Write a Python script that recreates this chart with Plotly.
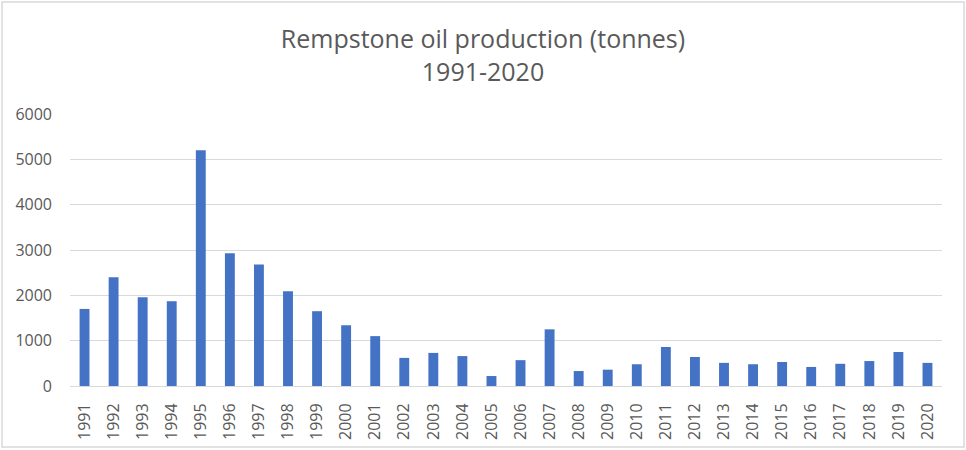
import plotly.graph_objects as go

years = [str(y) for y in range(1991, 2021)]
production = [1700, 2400, 1960, 1870, 5200, 2930, 2680, 2090, 1650, 1340,
              1100, 620, 730, 660, 220, 570, 1250, 330, 360, 480,
              860, 640, 510, 480, 530, 420, 490, 550, 750, 510]
y_ticks = [0, 1000, 2000, 3000, 4000, 5000, 6000]

W, H = 966, 450
L, R, T, B = 70, 24, 114, 64
pw, ph = W - L - R, H - T - B

fig = go.Figure(go.Bar(x=years, y=production, marker_color="#4472C4",
                       marker_line_width=0))

fig.update_layout(
    width=W, height=H,
    margin=dict(l=L, r=R, t=T, b=B, pad=0, autoexpand=False),
    paper_bgcolor="white", plot_bgcolor="white",
    font=dict(family="Open Sans", color="#595959"),
    bargap=0.66,
    showlegend=False,
    title=dict(text="Rempstone oil production (tonnes)<br>1991-2020",
               x=0.5, xanchor="center", y=1 - 48 / H, yanchor="top",
               font=dict(size=25, color="#595959", family="Open Sans")),
    shapes=[dict(type="rect", xref="paper", yref="paper",
                 x0=(2 - L) / pw, x1=(964 - L) / pw,
                 y0=(T + ph - 447) / ph, y1=(T + ph - 2) / ph,
                 line=dict(color="#D9D9D9", width=1.5), layer="below")],
)
fig.update_xaxes(type="category", tickangle=-90, showgrid=False,
                 showline=True, linecolor="#D9D9D9", linewidth=1,
                 ticks="", tickfont=dict(size=16, color="#595959"),
                 ticklabelstandoff=10)
fig.update_yaxes(range=[0, 6000], tickvals=y_ticks, showgrid=True,
                 gridcolor="#D9D9D9", gridwidth=1, zeroline=False,
                 showline=False, ticks="",
                 tickfont=dict(size=16, color="#595959"),
                 ticklabelstandoff=17)

fig.write_html("out.html", config={"displayModeBar": False},
               post_script="document.body.style.margin='0';")
